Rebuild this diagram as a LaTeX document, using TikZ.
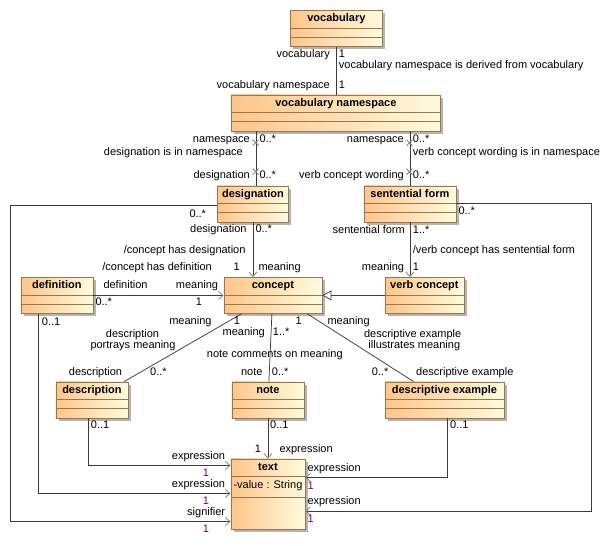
\documentclass[tikz,border=0pt]{standalone}
\usepackage{fontspec}
\setmainfont{Liberation Sans}
\usetikzlibrary{arrows.meta,shadows,calc}
\definecolor{boxL}{HTML}{FFC58A}
\definecolor{boxR}{HTML}{FFFBDD}
\definecolor{boxB}{HTML}{9A7650}
\definecolor{lineC}{HTML}{3C3C3C}
\definecolor{multC}{HTML}{800060}
\definecolor{shadowC}{HTML}{B4B4B4}
\newcommand{\lblfont}{\fontsize{11}{13}\selectfont}
\newcommand{\umlbox}[6]{%
  \node[classbox, minimum width=#4pt, minimum height=#5pt] (#1) at (#2,#3) {};
  \draw[compline] ([yshift=-18pt]#1.north west) -- ([yshift=-18pt]#1.north east);
  \draw[compline] ([yshift=-27pt]#1.north west) -- ([yshift=-27pt]#1.north east);
  \node[boxtitle] (#1-title) at ([yshift=-9pt]#1.north) {#6};
}
\tikzset{
  classbox/.style={draw=boxB, line width=0.8pt, left color=boxL, right color=boxR,
    drop shadow={shadow xshift=3pt, shadow yshift=-3pt, fill=shadowC, opacity=1},
    inner sep=0pt, anchor=north west},
  compline/.style={draw=boxB, line width=0.8pt},
  boxtitle/.style={font=\lblfont\bfseries, inner sep=0pt, text height=7.8pt, text depth=2.2pt},
  lbl/.style={font=\lblfont, inner sep=0pt, text height=7.8pt, text depth=2.2pt},
  mult/.style={lbl, text=multC},
  assoc/.style={draw=lineC, line width=0.75pt},
  nav/.style={assoc, -{Straight Barb[length=4.5pt, width=8pt, color=gray]}},
  gen/.style={assoc, -{Triangle[length=9pt, width=10pt, fill=white, color=lineC]}},
  xmark/.style={draw=gray, line width=0.8pt}
}
\begin{document}
\begin{tikzpicture}[x=1pt, y=-1pt]
\fill[white] (0,0) rectangle (611,546);
\useasboundingbox (0,0) rectangle (611,546);

\coordinate (dl) at (10.7,0);
\coordinate (sr) at (591.7,0);

% boxes
\umlbox{voc}{290}{10}{92}{36}{vocabulary}
\umlbox{vns}{231}{94.5}{209}{36}{vocabulary namespace}
\umlbox{des}{217}{185.5}{71}{36}{designation}
\umlbox{sf}{363.5}{185.5}{92}{36}{sentential form}
\umlbox{con}{223.5}{277}{98}{36}{concept}
\umlbox{def}{20.5}{277}{72}{36}{definition}
\umlbox{vc}{384.5}{277}{79}{36}{verb concept}
\umlbox{dsc}{55.5}{381.5}{72}{36}{description}
\umlbox{note}{231.5}{381.5}{72}{36}{note}
\umlbox{dex}{384.5}{381.5}{119}{36}{descriptive example}

\node[classbox, minimum width=74pt, minimum height=70pt] (txt) at (230.5,458.5) {};
\draw[compline] ([yshift=-18pt]txt.north west) -- ([yshift=-18pt]txt.north east);
\draw[compline] ([yshift=-39pt]txt.north west) -- ([yshift=-39pt]txt.north east);
\node[boxtitle] (txt-title) at ([yshift=-9pt]txt.north) {text};
\node[lbl, anchor=west] (txt-attr) at ([xshift=2.8pt, yshift=-27.5pt]txt.north west) {-value : String};

% associations
\draw[assoc] (voc.south) -- (voc.south |- vns.north);
\draw[assoc] ([xshift=3.2pt]des.north |- vns.south) -- ([xshift=3.2pt]des.north);
\draw[assoc] (sf.north |- vns.south) -- (sf.north);
\draw[nav] (des.south) -- (des.south |- con.north);
\draw[nav] (def.east) -- (con.west);
\draw[gen] (vc.west) -- (con.east);
\draw[nav] (sf.south) -- (sf.south |- vc.north);
\draw[assoc] ([xshift=18pt]con.south west) -- ([xshift=-4pt]dsc.north east);
\draw[assoc] ([xshift=-1pt]con.south) -- ([xshift=1pt]note.north);
\draw[assoc] ([xshift=-15pt]con.south east) -- ([xshift=29pt]dex.north west);
\draw[nav] ([xshift=-4pt]dsc.south) |- ([yshift=-7pt]txt.north west);
\draw[nav] ([xshift=18pt]def.south west) |- ([yshift=-35pt]txt.north west);
\draw[nav] ([yshift=-20pt]des.north west) -- ([yshift=-20pt]des.north west -| dl) |- ([yshift=-63pt]txt.north west);
\draw[nav] (note.south) -- (txt.north);
\draw[nav] ([xshift=3.3pt]dex.south) |- ([yshift=-19pt]txt.north east);
\draw[nav] ([yshift=-18pt]sf.north east) -- ([yshift=-18pt]sf.north east -| sr) |- ([yshift=-52.5pt]txt.north east);

% non-navigable marks
\draw[xmark] (252.7,139.7) -- (258.7,145.7) (252.7,145.7) -- (258.7,139.7);
\draw[xmark] (252.7,168.7) -- (258.7,174.7) (252.7,174.7) -- (258.7,168.7);
\draw[xmark] (406.5,139.7) -- (412.5,145.7) (406.5,145.7) -- (412.5,139.7);
\draw[xmark] (406.5,168.7) -- (412.5,174.7) (406.5,174.7) -- (412.5,168.7);

% labels
\node[lbl, anchor=east] (L1) at (330,55) {vocabulary};
\node[lbl, anchor=west] (L2) at (338.7,55) {1};
\node[lbl, anchor=west] (L3) at (338.7,65.3) {vocabulary namespace is derived from vocabulary};
\node[lbl, anchor=east] (L4) at (330,85.7) {vocabulary namespace};
\node[lbl, anchor=west] (L5) at (338.7,85.7) {1};
\node[lbl, anchor=east] (L6) at (250,140) {namespace};
\node[lbl, anchor=west] (L7) at (259.3,140) {0..*};
\node[lbl, anchor=east] (L8) at (243,152.3) {designation is in namespace};
\node[lbl, anchor=east] (L9) at (250,176) {designation};
\node[lbl, anchor=west] (L10) at (259.3,176) {0..*};
\node[lbl, anchor=east] (L11) at (404,140) {namespace};
\node[lbl, anchor=west] (L12) at (412.7,140) {0..*};
\node[lbl, anchor=west] (L13) at (412.7,152.3) {verb concept wording is in namespace};
\node[lbl, anchor=east] (L14) at (404,176) {verb concept wording};
\node[lbl, anchor=west] (L15) at (412.7,176) {0..*};
\node[lbl, anchor=west] (L16) at (189.3,214.3) {0..*};
\node[lbl, anchor=east] (L17) at (246.7,230) {designation};
\node[lbl, anchor=west] (L18) at (255.3,230) {0..*};
\node[lbl, anchor=east] (L19) at (245.7,250.3) {/concept has designation};
\node[lbl, anchor=east] (L20) at (212,268) {/concept has definition};
\node[lbl] (L21) at (236.7,268) {1};
\node[lbl, anchor=west] (L22) at (258.3,268) {meaning};
\node[lbl, anchor=west] (L23) at (103.3,285.3) {definition};
\node[lbl, anchor=east] (L24) at (218.3,285.3) {meaning};
\node[lbl, anchor=west] (L25) at (95.3,302.7) {0..*};
\node[lbl] (L26) at (199,302.7) {1};
\node[lbl, anchor=east] (L27) at (405,230.7) {sentential form};
\node[lbl, anchor=west] (L28) at (412.7,230.7) {1..*};
\node[lbl, anchor=west] (L29) at (412.7,250.3) {/verb concept has sentential form};
\node[lbl, anchor=east] (L30) at (404.3,267.3) {meaning};
\node[lbl, anchor=west] (L31) at (412.7,267.3) {1};
\node[lbl, anchor=west] (L32) at (458.3,212) {0..*};
\node[lbl, anchor=west] (L33) at (41.7,322.3) {0..1};
\node[lbl, anchor=east] (L34) at (211.7,321.8) {meaning};
\node[lbl] (L35) at (237,321.5) {1};
\node[lbl, anchor=east] (L36) at (265,332.3) {meaning};
\node[lbl, anchor=west] (L37) at (272.7,332.3) {1..*};
\node[lbl] (L38) at (298.8,321.8) {1};
\node[lbl] (L39) at (132.5,334.3) {description};
\node[lbl] (L40) at (133,346) {portrays meaning};
\node[lbl, anchor=west] (L41) at (206.7,355) {note comments on meaning};
\node[lbl, anchor=east] (L42) at (122.3,372.3) {description};
\node[lbl, anchor=west] (L43) at (150,372.3) {0..*};
\node[lbl, anchor=east] (L44) at (262.7,372.3) {note};
\node[lbl, anchor=west] (L45) at (271.7,372.3) {0..*};
\node[lbl, anchor=west] (L46) at (327.3,321.7) {meaning};
\node[lbl] (L47) at (412.7,334.3) {descriptive example};
\node[lbl] (L48) at (414.3,346) {illustrates meaning};
\node[lbl, anchor=west] (L49) at (371.7,372.3) {0..*};
\node[lbl, anchor=west] (L50) at (416,372.3) {descriptive example};
\node[lbl, anchor=west] (L51) at (90.7,426) {0..1};
\node[lbl, anchor=west] (L52) at (270,426) {0..1};
\node[lbl, anchor=west] (L53) at (450,426) {0..1};
\node[lbl] (L54) at (258,449.3) {1};
\node[lbl, anchor=west] (L55) at (279.3,449.3) {expression};
\node[lbl, anchor=east] (L56) at (225.3,456.7) {expression};
\node[mult] (L57) at (206,473.3) {1};
\node[lbl, anchor=east] (L58) at (225.3,484.3) {expression};
\node[mult] (L59) at (206,501.7) {1};
\node[lbl, anchor=east] (L60) at (225.3,512.3) {signifier};
\node[mult] (L61) at (206,529.3) {1};
\node[lbl, anchor=west] (L62) at (307.3,468.3) {expression};
\node[mult, anchor=west] (L63) at (307.3,486.7) {1};
\node[lbl, anchor=west] (L64) at (307.3,502) {expression};
\node[mult, anchor=west] (L65) at (307.3,519.3) {1};
\end{tikzpicture}
\end{document}
